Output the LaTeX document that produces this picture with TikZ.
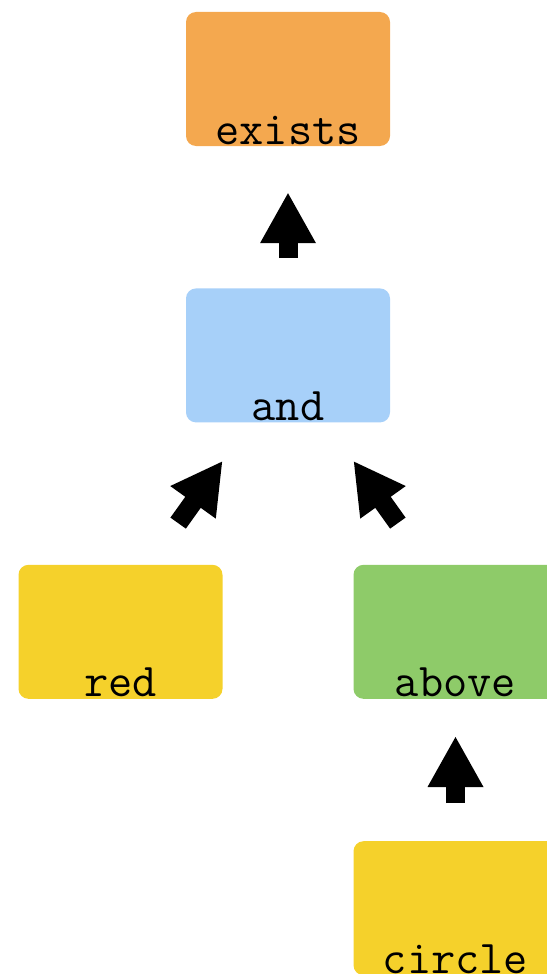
\documentclass[tikz,border=0pt]{standalone}
\usetikzlibrary{positioning,arrows.meta}

\definecolor{quantcol}{HTML}{F4A84F}
\definecolor{relcol}{HTML}{A7D0F9}
\definecolor{attrcol}{HTML}{F5D12B}
\definecolor{spatcol}{HTML}{8ECB69}

\tikzstyle{every node}=[font={\fontsize{47}{47}\selectfont\ttfamily}]
\tikzstyle{box}=[rounded corners=10pt, minimum width=204pt, inner xsep=0pt, inner ysep=0pt, text height=132pt, text depth=2pt]
\tikzstyle{flow}=[line width=19pt, -{Triangle[length=51pt,width=52pt]}]

\begin{document}
\begin{tikzpicture}[x=1pt,y=-1pt]
    \useasboundingbox (0,0) rectangle (546,974);
    \node [box, fill=quantcol] (exists) at (288,79) {exists};
    \node [box, fill=relcol, below=142pt of exists] (and) {and};
    \node [box, fill=attrcol, below=142pt of and, xshift=-167.5pt] (red) {red};
    \node [box, fill=spatcol, below=142pt of and, xshift=167.5pt] (above) {above};
    \node [box, fill=attrcol, below=142pt of above] (circle) {circle};

    \draw [flow, shorten <=30pt, shorten >=46pt] (and.north) -- (exists.south);
    \draw [flow, shorten <=51pt, shorten >=47pt] ([xshift=28pt]red.north) -- ([xshift=-38pt]and.south);
    \draw [flow, shorten <=51pt, shorten >=47pt] ([xshift=-28pt]above.north) -- ([xshift=38pt]and.south);
    \draw [flow, shorten <=38pt, shorten >=37pt] (circle.north) -- (above.south);
\end{tikzpicture}
\end{document}
